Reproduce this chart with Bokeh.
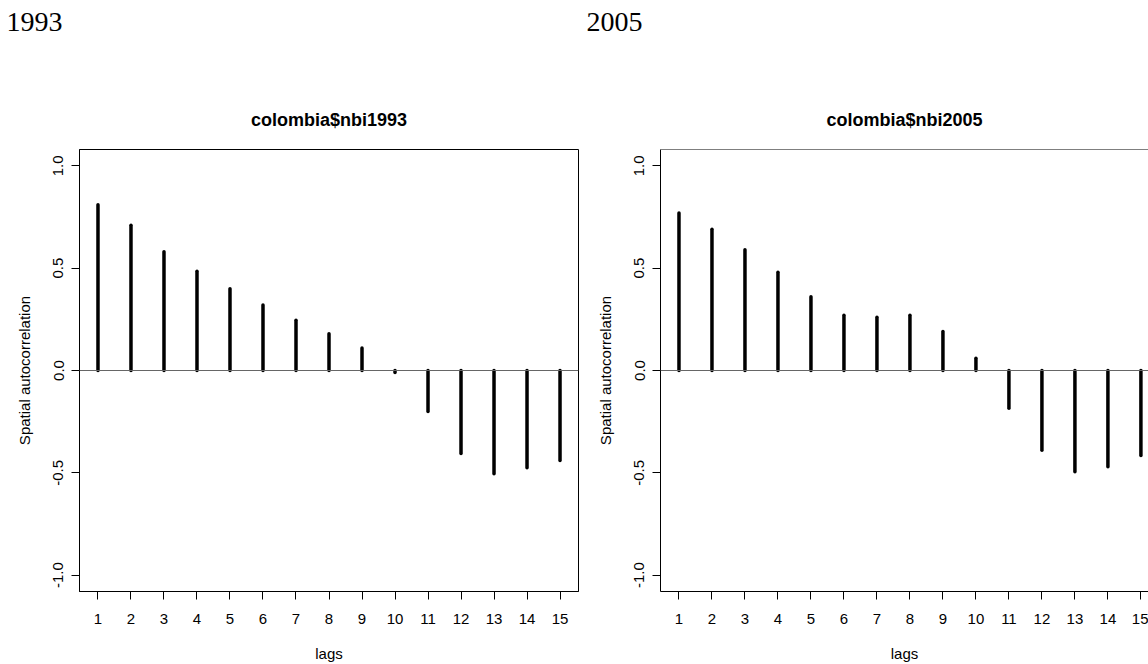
from bokeh.plotting import figure
from bokeh.layouts import row, column
from bokeh.models import FixedTicker, Span, Range1d
from bokeh.core.properties import value
from bokeh.embed import file_html
from bokeh.resources import INLINE

# Spatial correlogram of NBI (unmet basic needs) for Colombia, lags 1-15
lags = list(range(1, 16))
acf_1993 = [0.81, 0.71, 0.58, 0.485, 0.40, 0.32, 0.245, 0.18, 0.11, -0.01,
            -0.20, -0.405, -0.505, -0.475, -0.44]
acf_2005 = [0.77, 0.69, 0.59, 0.48, 0.36, 0.27, 0.26, 0.27, 0.19, 0.06,
            -0.185, -0.39, -0.495, -0.47, -0.415]
y_ticks = [-1.0, -0.5, 0.0, 0.5, 1.0]
y_tick_labels = {-1.0: "-1.0", -0.5: "-0.5", 0.0: "0.0", 0.5: "0.5", 1.0: "1.0"}
years = ["1993", "2005"]

SANS = "Liberation Sans"
HEADER_H = 72
PANEL_H = 664 - HEADER_H

# header strip carrying the year headings (pixel-based ranges, y downwards)
header = figure(width=1148, height=HEADER_H,
                x_range=Range1d(0, 1148), y_range=Range1d(HEADER_H, 0),
                x_axis_type=None, y_axis_type=None,
                output_backend="svg", toolbar_location=None,
                min_border=0)
header.outline_line_color = None
header.background_fill_color = "white"
header.border_fill_color = "white"
header.text(x=[6, 586], y=[21, 21], text=years,
            text_font=value("Liberation Serif"), text_font_size="28px",
            text_color="black", text_baseline="middle", text_align="left")


def correlogram(title, values, width, x_end, border_right, boxed):
    p = figure(width=width, height=PANEL_H,
               x_range=Range1d(0.44, x_end), y_range=Range1d(-1.08, 1.08),
               output_backend="svg", toolbar_location=None,
               min_border_left=79, min_border_right=border_right,
               min_border_top=149 - HEADER_H, min_border_bottom=70)
    p.background_fill_color = "white"
    p.border_fill_color = "white"
    p.grid.visible = False
    if boxed:
        p.outline_line_color = "black"
        p.outline_line_width = 1
    else:
        p.outline_line_color = None
        p.add_layout(Span(location=1.08, dimension="width",
                          line_color="black", line_width=1))

    p.title.text = title
    p.title.align = "center"
    p.title.text_font = SANS
    p.title.text_font_style = "bold"
    p.title.text_font_size = "18px"
    p.title.text_color = "black"
    p.title.standoff = 40

    for ax in (p.xaxis[0], p.yaxis[0]):
        ax.axis_line_color = "black"
        ax.major_tick_line_color = "black"
        ax.minor_tick_line_color = None
        ax.major_tick_in = 0
        ax.major_tick_out = 8
        ax.major_label_text_font = SANS
        ax.major_label_text_font_size = "15px"
        ax.major_label_text_color = "black"
        ax.axis_label_text_font = SANS
        ax.axis_label_text_font_size = "15px"
        ax.axis_label_text_font_style = "normal"
        ax.axis_label_text_color = "black"

    p.xaxis.ticker = FixedTicker(ticks=lags)
    p.xaxis.axis_label = "lags"
    p.xaxis.major_label_standoff = 14
    p.xaxis.axis_label_standoff = 18

    p.yaxis.ticker = FixedTicker(ticks=y_ticks)
    p.yaxis.major_label_overrides = y_tick_labels
    p.yaxis.major_label_orientation = "vertical"
    p.yaxis.axis_label = "Spatial autocorrelation"
    p.yaxis.major_label_standoff = 8
    p.yaxis.axis_label_standoff = 18

    p.add_layout(Span(location=0, dimension="width",
                      line_color="#666666", line_width=1))
    p.segment(x0=lags, y0=[0] * len(lags), x1=lags, y1=values,
              line_color="black", line_width=3.5, line_cap="round")
    return p


left = correlogram("colombia$nbi1993", acf_1993, 581, 15.56, 3, True)
right = correlogram("colombia$nbi2005", acf_2005, 567, 15.23, 0, False)

layout = column(header, row(left, right))
open("out.html", "w").write(file_html(layout, INLINE))
